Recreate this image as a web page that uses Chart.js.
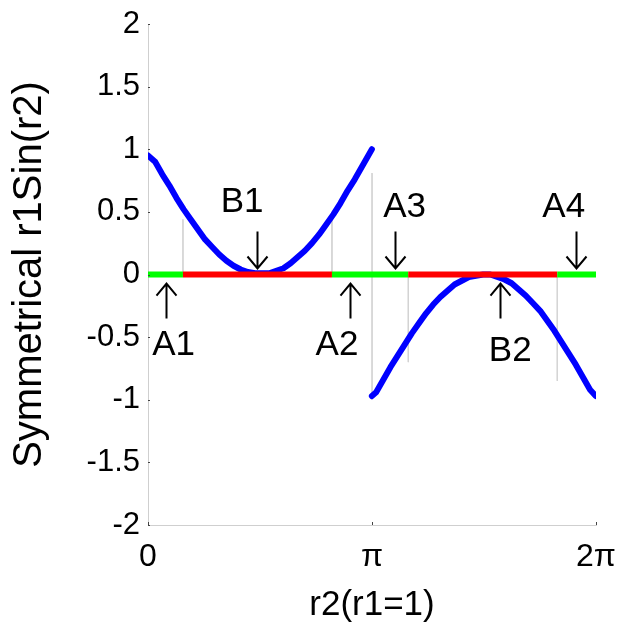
<!DOCTYPE html>
<html><head><meta charset="utf-8">
<script src="https://cdn.jsdelivr.net/npm/chart.js@4/dist/chart.umd.min.js"></script>
<style>html,body{margin:0;padding:0;background:#fff;overflow:hidden}</style>
</head><body>
<canvas id="c" width="619" height="631"></canvas>
<script>
// ---- data ----
const xFirst = [0,0.1,0.2,0.3,0.4,0.5,0.6,0.7,0.8,0.9,1.0,1.1,1.2,1.3,1.4,1.5,1.6,1.7,1.8,1.9,2.0,2.1,2.2,2.3,2.4,2.5,2.6,2.7,2.8,2.9,3.0,3.1,3.14];
const yFirst = [0.95,0.90,0.80,0.71,0.61,0.52,0.44,0.36,0.28,0.22,0.16,0.11,0.07,0.04,0.02,0.01,0.01,0.01,0.03,0.05,0.09,0.14,0.19,0.25,0.32,0.40,0.48,0.57,0.67,0.76,0.86,0.96,1.00];
const xSecond = [3.14,3.2,3.3,3.4,3.5,3.6,3.7,3.8,3.9,4.0,4.1,4.2,4.3,4.4,4.5,4.6,4.7,4.8,4.9,5.0,5.1,5.2,5.3,5.4,5.5,5.6,5.7,5.8,5.9,6.0,6.1,6.2,6.28];
const ySecond = [-0.97,-0.94,-0.84,-0.74,-0.65,-0.56,-0.47,-0.39,-0.31,-0.24,-0.18,-0.13,-0.08,-0.05,-0.02,-0.01,0.00,0.00,-0.02,-0.04,-0.07,-0.12,-0.17,-0.23,-0.29,-0.37,-0.45,-0.54,-0.63,-0.72,-0.82,-0.92,-0.97];
// zero-line segments (alternating green / red)
const segX = [0, 0.49, 2.58, 3.65, 5.74, 6.2832];
// faint guide lines
const guideX = [0.49, 2.58, 3.1416, 3.65, 5.74];
const guideTop = [0.44, 0.44, 0.81, 0, 0];
const guideBottom = [0, 0, -1.0, -0.7, -0.85];
// annotations
const annLabels = ['A1','B1','A2','A3','B2','A4'];
const annTextX = [0.36, 1.32, 2.65, 3.60, 5.08, 5.83];
const annTextY = [-0.64, 0.50, -0.64, 0.46, -0.69, 0.46];   // baseline
const annArrowX = [0.252, 1.529, 2.833, 3.464, 4.937, 6.003];
const annArrowTail = [-0.351, 0.343, -0.351, 0.343, -0.351, 0.343];
const annArrowTip = [-0.072, 0.048, -0.072, 0.048, -0.072, 0.048];
// ticks
const xTickValues = [0, Math.PI, 2*Math.PI];
const xTickLabels = ['0', 'π', '2π'];
const yMin = -2, yMax = 2, yStep = 0.5;

const FONT = '"Liberation Sans", Arial, Helvetica, sans-serif';
const GREEN = '#00ff00', RED = '#ff0000', BLUE = '#0000ff';

const toPts = (xs, ys) => xs.map((x, i) => ({x, y: ys[i]}));
const segPts = segX.map(x => ({x, y: 0}));
const guidePts = [];
guideX.forEach((x, i) => { guidePts.push({x, y: guideTop[i]}, {x, y: guideBottom[i]}, {x: NaN, y: null}); });

const annotationPlugin = {
  id: 'ann',
  afterDatasetsDraw(chart) {
    const {ctx, scales: {x, y}} = chart;
    ctx.save();
    ctx.fillStyle = '#000';
    ctx.strokeStyle = '#000';
    ctx.lineWidth = 2;
    ctx.font = '35px ' + FONT;
    ctx.textAlign = 'center';
    ctx.textBaseline = 'alphabetic';
    annLabels.forEach((lab, i) => {
      ctx.fillText(lab, x.getPixelForValue(annTextX[i]), y.getPixelForValue(annTextY[i]));
      const ax = Math.round(x.getPixelForValue(annArrowX[i])) + 0.5;
      const t0 = y.getPixelForValue(annArrowTail[i]);
      const t1 = y.getPixelForValue(annArrowTip[i]);
      const dir = t1 > t0 ? 1 : -1;
      ctx.beginPath();
      ctx.moveTo(ax, t0); ctx.lineTo(ax, t1);
      ctx.moveTo(ax - 10, t1 - dir * 12); ctx.lineTo(ax, t1); ctx.lineTo(ax + 10, t1 - dir * 12);
      ctx.stroke();
    });
    // small tick marks inside the axes
    ctx.strokeStyle = '#444';
    ctx.lineWidth = 1;
    const left = chart.chartArea.left, bottom = chart.chartArea.bottom;
    ctx.beginPath();
    for (let v = yMin; v <= yMax + 1e-9; v += yStep) {
      const py = Math.round(y.getPixelForValue(v)) + 0.5;
      ctx.moveTo(left, py); ctx.lineTo(left + 2, py);
    }
    xTickValues.forEach(v => {
      const px = Math.round(x.getPixelForValue(v)) + 0.5;
      ctx.moveTo(px, bottom); ctx.lineTo(px, bottom - 3);
    });
    ctx.stroke();
    ctx.restore();
  }
};

new Chart(document.getElementById('c'), {
  type: 'scatter',
  data: {
    datasets: [
      { data: segPts, showLine: true, pointRadius: 0, borderWidth: 6, borderCapStyle: 'butt',
        borderColor: GREEN,
        segment: { borderColor: c => (c.p0DataIndex % 2 === 0 ? GREEN : RED) }, order: 0 },
      { data: toPts(xFirst, yFirst), showLine: true, pointRadius: 0, borderWidth: 6, borderColor: BLUE,
        borderCapStyle: 'round', borderJoinStyle: 'round', order: 1 },
      { data: toPts(xSecond, ySecond), showLine: true, pointRadius: 0, borderWidth: 6, borderColor: BLUE,
        borderCapStyle: 'round', borderJoinStyle: 'round', order: 1 },
      { data: guidePts, showLine: true, spanGaps: false, pointRadius: 0, borderWidth: 1, borderColor: '#d4d4d4', order: 2 }
    ]
  },
  options: {
    responsive: false,
    devicePixelRatio: 1,
    animation: false,
    layout: { padding: { left: 0, right: 23, top: 24, bottom: 0 } },
    plugins: { legend: { display: false }, tooltip: { enabled: false } },
    scales: {
      x: {
        type: 'linear', min: 0, max: 2 * Math.PI,
        grid: { display: false, drawTicks: false },
        border: { display: true, color: '#cfcfcf', width: 1 },
        afterBuildTicks: s => { s.ticks = xTickValues.map(v => ({value: v})); },
        afterFit: s => { s.height = 106; s.paddingLeft = 0; s.paddingRight = 0; },
        ticks: { color: '#000', font: { family: FONT, size: 32 }, padding: 13,
                 maxRotation: 0, autoSkip: false,
                 callback: (v) => { const i = xTickValues.findIndex(t => Math.abs(t - v) < 1e-6); return i >= 0 ? xTickLabels[i] : ''; } },
        title: { display: true, text: 'r2(r1=1)', color: '#000', font: { family: FONT, size: 35 }, padding: { top: 0, bottom: 5 } }
      },
      y: {
        min: yMin, max: yMax,
        grid: { display: false, drawTicks: false },
        border: { display: true, color: '#cfcfcf', width: 1 },
        afterFit: s => { s.width = 148; s.paddingTop = 0; s.paddingBottom = 0; },
        ticks: { stepSize: yStep, color: '#000', font: { family: FONT, size: 31 }, padding: 8,
                 callback: v => String(Math.round(v * 10) / 10) },
        title: { display: true, text: 'Symmetrical r1Sin(r2)', color: '#000', font: { family: FONT, size: 40 }, padding: { top: 6, bottom: 0 } }
      }
    }
  },
  plugins: [annotationPlugin]
});
</script>
</body></html>
